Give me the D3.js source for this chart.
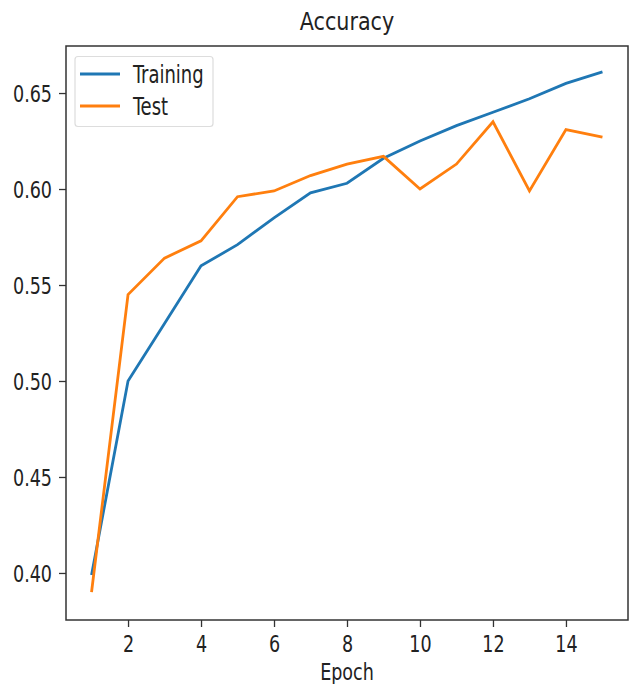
<!DOCTYPE html>
<html><head><meta charset="utf-8">
<script src="https://cdn.jsdelivr.net/npm/d3@7"></script>
<style>body{margin:0;background:#fff}svg text{font-family:"DejaVu Sans Condensed","DejaVu Sans",sans-serif;fill:#222}</style>
</head><body>
<svg id="c" width="630" height="684"></svg>
<script>
const epochs = [1,2,3,4,5,6,7,8,9,10,11,12,13,14,15];
const training = [0.399,0.500,0.530,0.560,0.571,0.585,0.598,0.603,0.616,0.625,0.633,0.640,0.647,0.655,0.661];
const test = [0.390,0.545,0.564,0.573,0.596,0.599,0.607,0.613,0.617,0.600,0.613,0.635,0.599,0.631,0.627];
const xTicks = [2,4,6,8,10,12,14];
const yTicks = [0.40,0.45,0.50,0.55,0.60,0.65];
const seriesNames = ["Training","Test"];
const colors = ["#1f77b4","#ff7f0e"];

const svg = d3.select("#c");
const L=66,R=628,T=46,B=620;
const SY=1.2;
const x = d3.scaleLinear().domain([0.3,15.7]).range([L,R]);
const y = d3.scaleLinear().domain([0.3755,0.6745]).range([B,T]);

const xa = svg.append("g").attr("transform",`translate(0,${B})`)
  .call(d3.axisBottom(x).tickValues(xTicks).tickSize(7).tickFormat(d3.format("d")));
const ya = svg.append("g").attr("transform",`translate(${L},0)`)
  .call(d3.axisLeft(y).tickValues(yTicks).tickSize(7).tickFormat(d3.format(".2f")));
[xa,ya].forEach(a=>{a.select(".domain").remove();a.selectAll("line").attr("stroke","#333").attr("stroke-width",1.3);a.selectAll("text").style("font-size","19.5px").attr("fill","#222");});
xa.selectAll("text").attr("y",0).attr("dy",null).attr("transform",`translate(0,32) scale(1,${SY})`);
ya.selectAll("text").attr("x",0).attr("dy","0.36em").attr("transform",`translate(-14,0) scale(1,${SY})`);

svg.append("rect").attr("x",L).attr("y",T).attr("width",R-L).attr("height",B-T)
  .attr("fill","none").attr("stroke","#333").attr("stroke-width",1.5);

const line = d3.line().x((d,i)=>x(epochs[i])).y(d=>y(d));
[training,test].forEach((s,k)=>{
  svg.append("path").datum(s).attr("d",line).attr("fill","none")
    .attr("stroke",colors[k]).attr("stroke-width",2.8).attr("stroke-linejoin","miter");
});

function stext(px,py,str,size,anchor,sy){
  return svg.append("text").attr("transform",`translate(${px},${py}) scale(1,${sy})`)
    .attr("text-anchor",anchor).style("font-size",size+"px").text(str);
}
stext((L+R)/2,30,"Accuracy",23,"middle",1.05);
stext((L+R)/2,680,"Epoch",19.5,"middle",SY);

const lg = svg.append("g");
lg.append("rect").attr("x",75).attr("y",56.5).attr("width",138).attr("height",70).attr("rx",3)
  .attr("fill","#fff").attr("stroke","#ddd").attr("stroke-width",1.2);
seriesNames.forEach((n,k)=>{
  const yy = 74 + k*32;
  lg.append("line").attr("x1",80).attr("x2",120).attr("y1",yy).attr("y2",yy).attr("stroke",colors[k]).attr("stroke-width",2.8);
  stext(133,yy+9,n,20,"start",SY);
});
</script>
</body></html>
